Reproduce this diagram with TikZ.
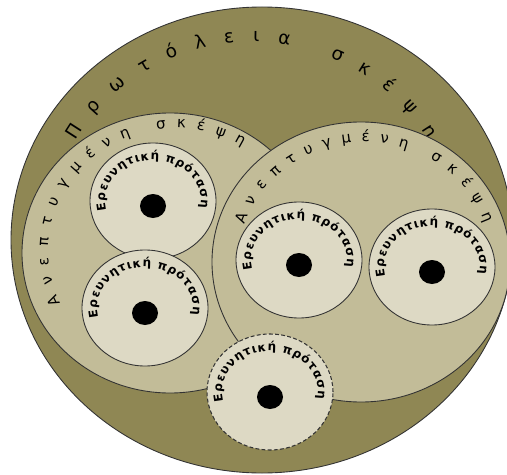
\documentclass[tikz,border=0pt]{standalone}
\usepackage{fontspec}
\setmainfont{DejaVu Sans}
\usetikzlibrary{decorations.text,calc}

\definecolor{thoughtcol}{RGB}{143,135,84}
\definecolor{devcol}{RGB}{194,188,152}
\definecolor{propcol}{RGB}{221,217,196}

\begin{document}
\begin{tikzpicture}[
    x=0.02cm, y=0.02cm,
    thought/.style={draw=black!80, line width=0.5pt, fill=thoughtcol},
    developed/.style={draw=black!80, line width=0.5pt, fill=devcol},
    proposal/.style={draw=black!80, line width=0.5pt, fill=propcol},
    open/.style={line width=0.6pt, dash pattern=on 2.2pt off 1.3pt},
    seed/.style={fill=black},
    curved/.style={decorate, decoration={text along path, text align={fit to path}, text={#1}}},
]
\useasboundingbox (0,0) rectangle (507,474);

% --- Centres ---
\coordinate (big) at (262,234);
\coordinate (bigtxt) at (252,234);
\coordinate (devL) at (170,221);
\coordinate (devLtxt) at (175,224);
\coordinate (devR) at (361,212);
\coordinate (devRtxt) at (365,212);

% --- Outer circle ---
\draw[thought] (big) ellipse[x radius=251, y radius=233];
\path[curved={|\fontsize{10.5}{11}\selectfont|Πρωτόλεια σκέψη}]
    ($(bigtxt)+(150:204 and 198)$) arc[start angle=150, end angle=30.5, x radius=204, y radius=198];

% --- Developed thoughts ---
\draw[developed] (devL) ellipse[x radius=148, y radius=140];
\path[curved={|\fontsize{8.5}{9}\selectfont|Ανεπτυγμένη σκέψη}]
    ($(devLtxt)+(206:127 and 122)$) arc[start angle=206, end angle=58, x radius=127, y radius=122];

\draw[developed] (devR) ellipse[x radius=149, y radius=140];
\path[curved={|\fontsize{8.5}{9}\selectfont|Ανεπτυγμένη σκέψη}]
    ($(devRtxt)+(162:127 and 120)$) arc[start angle=162, end angle=19, x radius=127, y radius=120];

% --- Research proposals ---
\foreach \n/\x/\y/\s in {propA/153/273/solid, propB/145/166/solid, propC/299/214/solid,
                         propD/432/207/solid, propE/270/82/open}{
  \coordinate (\n) at (\x,\y);
  \draw[proposal, \s] (\n) ellipse[x radius=63, y radius=58];
  \path[curved={|\bfseries\fontsize{6.8}{7}\selectfont|Ερευνητική πρόταση}]
      ($(\n)+(193:48 and 41)$) arc[start angle=193, end angle=-10, x radius=48, y radius=41];
  \fill[seed] ($(\n)+(0,-5)$) ellipse[x radius=13, y radius=12];
}

\end{tikzpicture}
\end{document}
